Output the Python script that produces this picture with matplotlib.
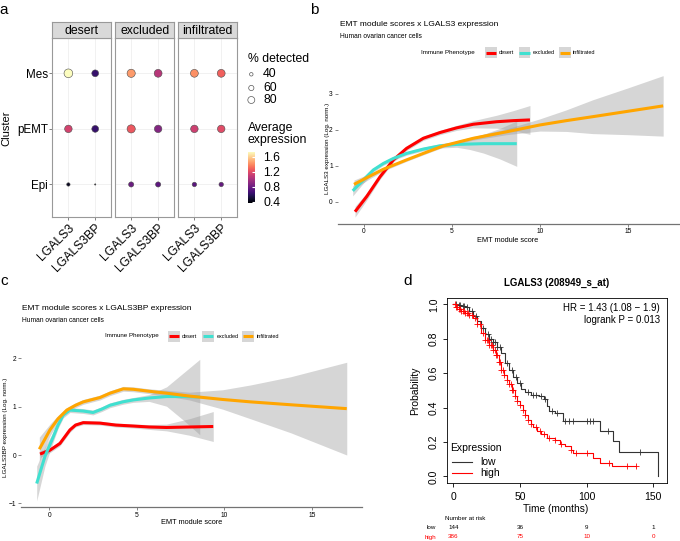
import numpy as np
import matplotlib
matplotlib.use('Agg')
import matplotlib.pyplot as plt
from matplotlib.patches import Rectangle
from matplotlib import colors, cm
from matplotlib.transforms import blended_transform_factory

plt.rcParams['font.family'] = ['Liberation Sans', 'DejaVu Sans']

# ---------------- panel a : dot plot ----------------
phenotypes = ['desert', 'excluded', 'infiltrated']
genes = ['LGALS3', 'LGALS3BP']
clusters = ['Epi', 'pEMT', 'Mes']
# rows = clusters (Epi, pEMT, Mes), cols = genes (LGALS3, LGALS3BP)
desert_avg = [[0.45, 0.40], [1.15, 0.62], [1.74, 0.62]]
excluded_avg = [[0.80, 0.75], [1.25, 0.88], [1.45, 1.05]]
infiltrated_avg = [[0.74, 0.78], [1.13, 1.20], [1.42, 1.28]]
desert_pct = [[39, 15], [86, 78], [100, 78]]
excluded_pct = [[59, 59], [94, 86], [94, 90]]
infiltrated_pct = [[51, 51], [86, 86], [90, 90]]
size_breaks = [40, 60, 80]
color_breaks = [0.4, 0.8, 1.2, 1.6]

# ---------------- panel b : LGALS3 smooth ----------------
b_desert_x = [-0.51, 0.15, 0.91, 1.67, 2.42, 3.37, 4.32, 5.27, 6.21, 7.54, 8.5, 9.43]
b_desert_y = [-0.27, 0.15, 0.70, 1.17, 1.49, 1.77, 1.93, 2.06, 2.16, 2.23, 2.26, 2.28]
b_desert_lo = [-0.42, 0.05, 0.63, 1.11, 1.43, 1.71, 1.87, 1.99, 2.06, 2.05, 1.98, 1.88]
b_desert_hi = [-0.12, 0.25, 0.77, 1.23, 1.55, 1.83, 1.99, 2.13, 2.26, 2.41, 2.54, 2.68]
b_excl_x = [-0.64, -0.04, 0.53, 1.10, 1.67, 2.42, 3.37, 4.32, 5.27, 6.0, 6.78, 7.7, 8.68]
b_excl_y = [0.31, 0.61, 0.89, 1.07, 1.21, 1.35, 1.47, 1.56, 1.60, 1.61, 1.62, 1.62, 1.62]
b_excl_lo = [0.17, 0.52, 0.83, 1.02, 1.16, 1.30, 1.42, 1.50, 1.52, 1.46, 1.36, 1.20, 0.99]
b_excl_hi = [0.45, 0.70, 0.95, 1.12, 1.26, 1.40, 1.52, 1.62, 1.68, 1.76, 1.88, 2.04, 2.25]
b_infl_x = [-0.57, 0.34, 1.10, 2.42, 3.37, 4.51, 6.21, 8.1, 10.0, 11.5, 13.0, 15.0, 17.0]
b_infl_y = [0.49, 0.72, 0.91, 1.17, 1.35, 1.56, 1.77, 1.95, 2.14, 2.26, 2.37, 2.52, 2.67]
b_infl_lo = [0.37, 0.65, 0.86, 1.13, 1.31, 1.52, 1.72, 1.87, 1.97, 1.96, 1.90, 1.87, 1.83]
b_infl_hi = [0.61, 0.79, 0.96, 1.21, 1.39, 1.60, 1.82, 2.03, 2.31, 2.56, 2.84, 3.17, 3.51]

# ---------------- panel c : LGALS3BP smooth ----------------
c_desert_x = [-0.53, 0.04, 0.61, 1.18, 1.5, 1.94, 2.9, 3.8, 4.8, 5.7, 6.7, 8.0, 9.37]
c_desert_y = [0.02, 0.10, 0.24, 0.52, 0.62, 0.67, 0.66, 0.62, 0.60, 0.58, 0.57, 0.58, 0.59]
c_desert_lo = [-0.05, 0.05, 0.19, 0.47, 0.58, 0.63, 0.62, 0.58, 0.56, 0.53, 0.50, 0.41, 0.28]
c_desert_hi = [0.09, 0.15, 0.29, 0.57, 0.66, 0.71, 0.70, 0.66, 0.64, 0.63, 0.64, 0.75, 0.90]
c_excl_x = [-0.72, -0.25, 0.23, 0.5, 0.8, 1.18, 1.94, 2.5, 3.0, 3.47, 4.2, 4.8, 5.7, 6.7, 7.7, 8.6]
c_excl_y = [-0.59, -0.03, 0.38, 0.62, 0.83, 0.93, 0.91, 0.88, 0.95, 1.03, 1.10, 1.14, 1.18, 1.21, 1.21, 1.20]
c_excl_lo = [-0.95, -0.23, 0.28, 0.55, 0.77, 0.88, 0.86, 0.83, 0.90, 0.98, 1.05, 1.09, 1.11, 1.01, 0.71, 0.42]
c_excl_hi = [-0.23, 0.17, 0.48, 0.69, 0.89, 0.98, 0.96, 0.93, 1.00, 1.08, 1.15, 1.19, 1.25, 1.41, 1.71, 1.98]
c_infl_x = [-0.57, 0.04, 0.5, 1.0, 1.5, 1.94, 2.9, 3.47, 4.23, 4.8, 5.7, 6.7, 8.0, 9.9, 11.5, 13.8, 17.0]
c_infl_y = [0.12, 0.52, 0.75, 0.93, 1.03, 1.10, 1.19, 1.28, 1.37, 1.36, 1.32, 1.28, 1.22, 1.15, 1.10, 1.04, 0.96]
c_infl_lo = [-0.13, 0.40, 0.68, 0.88, 0.98, 1.05, 1.14, 1.23, 1.32, 1.31, 1.27, 1.22, 1.14, 0.95, 0.75, 0.46, 0.00]
c_infl_hi = [0.37, 0.64, 0.82, 0.98, 1.08, 1.15, 1.24, 1.33, 1.42, 1.41, 1.37, 1.34, 1.30, 1.35, 1.45, 1.62, 1.92]

pheno_colors = ['#FF0000', '#40E0D0', '#FFA500']

# ---------------- panel d : Kaplan-Meier ----------------
low_t = [0, 3, 6, 9, 12, 15, 18, 21, 24, 27, 30, 33, 36, 39, 42, 45, 48, 51, 54, 58,
         64, 68, 70, 72, 76, 82.5, 110, 120, 124.5, 153.5]
low_s = [1.0, 0.995, 0.99, 0.985, 0.96, 0.935, 0.905, 0.865, 0.83, 0.80, 0.78, 0.75,
         0.715, 0.66, 0.62, 0.575, 0.54, 0.51, 0.49, 0.475, 0.465, 0.45, 0.41, 0.38,
         0.367, 0.32, 0.265, 0.203, 0.139, 0.0]
high_t = [0, 2, 4, 6, 9, 12, 15, 18, 21, 24, 27, 30, 32, 34, 36, 38, 40, 42, 44, 46,
          48, 50, 52, 54, 56, 58, 60, 63, 66, 70, 76, 80, 84, 88, 90, 104.6, 110, 119, 136.8]
high_s = [1.0, 0.985, 0.972, 0.962, 0.952, 0.94, 0.92, 0.885, 0.835, 0.79, 0.765, 0.735,
          0.705, 0.665, 0.62, 0.59, 0.56, 0.535, 0.50, 0.465, 0.44, 0.415, 0.385, 0.355,
          0.33, 0.305, 0.29, 0.265, 0.248, 0.222, 0.213, 0.19, 0.175, 0.155, 0.136, 0.107,
          0.078, 0.059, 0.059]
low_cens = [2, 4, 5, 7, 8, 10, 14, 17, 22, 26, 28, 30, 31, 33, 35, 40, 44, 47, 50, 56,
            60, 62, 66, 69, 74, 78, 84, 86.5, 90, 100, 102.5, 104.5, 116, 140]
high_cens = [1, 2, 3, 4, 5, 6, 7, 8, 9, 10, 11, 12, 14, 16, 18, 20, 22, 24, 25, 26, 27,
             28, 29, 30, 31, 32, 33, 34, 35, 36, 37, 38, 40, 42, 43, 44, 45, 46, 48, 50,
             52, 54, 56, 58, 62, 65, 68, 72, 76, 81, 88, 92, 100, 117, 130, 136.8]
risk_times = [0, 50, 100, 150]
risk_low = [144, 36, 9, 1]
risk_high = [386, 75, 10, 0]

W, H = 680, 541
fig = plt.figure(figsize=(W / 100, H / 100), dpi=100)


def box(l, t, r, b, **kw):
    return fig.add_axes([l / W, 1 - b / H, (r - l) / W, (b - t) / H], **kw)


ov = fig.add_axes([0, 0, 1, 1], zorder=10)
ov.set_xlim(0, W)
ov.set_ylim(H, 0)
ov.axis('off')

for lab, x, y in [('a', 4, 10), ('b', 314, 10), ('c', 4, 281), ('d', 408, 281)]:
    ov.text(x, y, lab, fontsize=11, ha='center', va='center')

# ---- panel a ----
cmap = plt.get_cmap('magma')
norm = colors.Normalize(vmin=0.36, vmax=1.74)
fs_a = 8.8


def dot_size(p):
    return (0.087 * np.asarray(p) * 0.72) ** 2


strips = [(52.3, 111.3), (115.0, 174.3), (178.3, 237.3)]
avgs = [desert_avg, excluded_avg, infiltrated_avg]
pcts = [desert_pct, excluded_pct, infiltrated_pct]
for i, ph in enumerate(phenotypes):
    l, r = strips[i]
    ax = box(l, 38.3, r, 216.7)
    xs = np.tile([1, 2], 3)
    ys = np.repeat([1, 2, 3], 2)
    ax.scatter(xs, ys, s=dot_size(np.ravel(pcts[i])), c=np.ravel(avgs[i]), cmap=cmap,
               norm=norm, edgecolors='0.3', linewidths=0.4, zorder=3)
    ax.set_xlim(0.4, 2.6)
    ax.set_ylim(0.42, 3.63)
    ax.set_xticks([1, 2])
    ax.set_xticklabels(genes, rotation=45, ha='right', rotation_mode='anchor', fontsize=fs_a)
    ax.set_yticks([1, 2, 3])
    if i == 0:
        ax.set_yticklabels(clusters, fontsize=8.4)
        ax.tick_params(axis='y', length=2, color='0.3', width=0.5, pad=1)
    else:
        ax.set_yticklabels([])
        ax.tick_params(axis='y', length=0)
    ax.tick_params(axis='x', length=2, color='0.3', width=0.5, pad=1.5)
    ax.grid(color='#EBEBEB', lw=0.5)
    ax.set_axisbelow(True)
    for sp in ax.spines.values():
        sp.set_color('0.6')
        sp.set_linewidth(0.8)
    st = box(l, 22.3, r, 38.3, facecolor='#D9D9D9')
    st.set_xticks([])
    st.set_yticks([])
    for sp in st.spines.values():
        sp.set_color('0.6')
        sp.set_linewidth(0.8)
    st.text(0.5, 0.45, ph, transform=st.transAxes, ha='center', va='center', fontsize=fs_a)

ov.text(6, 128, 'Cluster', rotation=90, fontsize=8, ha='center', va='center')
ov.text(247.7, 59, '% detected', fontsize=fs_a, va='center')
leg_y = [74.3, 88, 100]
ov.scatter([251.3] * 3, leg_y, s=dot_size(size_breaks), facecolors='white',
           edgecolors='0.35', linewidths=0.5)
for y, v in zip(leg_y, size_breaks):
    ov.text(263, y, str(v), fontsize=fs_a, va='center')
ov.text(247.7, 128.3, 'Average', fontsize=fs_a, va='center')
ov.text(247.7, 140.5, 'expression', fontsize=fs_a, va='center')
cax = box(247.7, 151.7, 255, 203.3)
cb = fig.colorbar(cm.ScalarMappable(norm=norm, cmap=cmap), cax=cax)
cb.set_ticks(color_breaks)
cb.ax.tick_params(labelsize=fs_a, length=2, color='white', direction='in', pad=6)
cb.outline.set_visible(False)


# ---- panels b, c ----
def smooth_panel(ax, groups):
    for (x, y, lo, hi), col in zip(groups, pheno_colors):
        ax.fill_between(x, lo, hi, color='#999999', alpha=0.4, lw=0)
        ax.plot(x, y, color=col, lw=2.2, solid_capstyle='butt')
    for s in ['top', 'right', 'left']:
        ax.spines[s].set_visible(False)
    ax.spines['bottom'].set_color('0.45')
    ax.spines['bottom'].set_linewidth(0.9)
    ax.set_xticks([0, 5, 10, 15])
    ax.tick_params(labelsize=4.8, length=2, color='0.45', width=0.6, pad=1.5)
    ax.patch.set_alpha(0)


def pheno_legend(x0, keys, y):
    ov.text(x0, y, 'Immune Phenotype', fontsize=4.5, va='center')
    for kx, lab, col in zip(keys, phenotypes, pheno_colors):
        ov.add_patch(Rectangle((kx, y - 5.5), 11.5, 11, facecolor='#D6D6D6', lw=0))
        ov.plot([kx + 0.5, kx + 11], [y, y], color=col, lw=2.2, solid_capstyle='butt')
        ov.text(kx + 14, y, lab, fontsize=4, va='center')


axb = box(337.6, 68.8, 679, 223.6)
smooth_panel(axb, [(b_desert_x, b_desert_y, b_desert_lo, b_desert_hi),
                   (b_excl_x, b_excl_y, b_excl_lo, b_excl_hi),
                   (b_infl_x, b_infl_y, b_infl_lo, b_infl_hi)])
axb.set_xlim(-1.5, 17.9)
axb.set_ylim(-0.6, 3.7)
axb.set_yticks([0, 1, 2, 3])
ov.text(340, 25, 'EMT module scores x LGALS3 expression', fontsize=6.0, va='center')
ov.text(340, 36, 'Human ovarian cancer cells', fontsize=4.8, va='center')
pheno_legend(421, [485, 518.7, 559], 52.5)
ov.text(327, 148, 'LGALS3 expression (Log. norm.)', rotation=90, fontsize=4.5,
        ha='center', va='center')
ov.text(508, 240, 'EMT module score', fontsize=5.3, ha='center', va='center')

axc = box(21.3, 352.1, 362.5, 507.2)
smooth_panel(axc, [(c_desert_x, c_desert_y, c_desert_lo, c_desert_hi),
                   (c_excl_x, c_excl_y, c_excl_lo, c_excl_hi),
                   (c_infl_x, c_infl_y, c_infl_lo, c_infl_hi)])
axc.set_xlim(-1.6, 17.9)
axc.set_ylim(-1.08, 2.13)
axc.set_yticks([-1, 0, 1, 2])
ov.text(22, 309, 'EMT module scores x LGALS3BP expression', fontsize=6.0, va='center')
ov.text(22, 320, 'Human ovarian cancer cells', fontsize=4.8, va='center')
pheno_legend(105, [168, 202.3, 242.3], 336)
ov.text(6, 427, 'LGALS3BP expression (Log. norm.)', rotation=90, fontsize=4.5,
        ha='center', va='center')
ov.text(192, 523, 'EMT module score', fontsize=5.3, ha='center', va='center')

# ---- panel d ----
axd = box(447.3, 298.3, 666.7, 483.3)


def step_at(t, s, c):
    idx = np.searchsorted(t, c, side='right') - 1
    return np.asarray(s)[idx]


for t, s, cens, col in [(low_t, low_s, low_cens, '0.2'), (high_t, high_s, high_cens, '#FF0000')]:
    axd.plot(t, s, drawstyle='steps-post', color=col, lw=0.8)
    axd.plot(cens, step_at(t, s, cens), ls='none', marker='+', ms=4, mew=0.6, color=col)
axd.set_xlim(-4.6, 160)
axd.set_ylim(-0.04, 1.035)
axd.set_xticks([0, 50, 100, 150])
axd.set_yticks([0, 0.2, 0.4, 0.6, 0.8, 1.0])
axd.set_yticklabels(['0.0', '0.2', '0.4', '0.6', '0.8', '1.0'], rotation=90, va='center')
axd.tick_params(labelsize=7.5, length=3, width=0.6, pad=3)
for sp in axd.spines.values():
    sp.set_linewidth(0.6)
ov.text(556.7, 283, 'LGALS3 (208949_s_at)', fontweight='bold', fontsize=7,
        ha='center', va='center')
ov.text(660, 308.3, 'HR = 1.43 (1.08 \u2212 1.9)', ha='right', va='center', fontsize=7)
ov.text(660, 320.3, 'logrank P = 0.013', ha='right', va='center', fontsize=7)
ov.text(450, 448.3, 'Expression', fontsize=7.5, va='center')
ov.plot([452, 472], [461.7, 461.7], color='0.2', lw=0.8)
ov.plot([452, 472], [472.7, 472.7], color='#FF0000', lw=0.8)
ov.text(480, 461.7, 'low', fontsize=7.5, va='center')
ov.text(480, 472.7, 'high', fontsize=7.5, va='center')
ov.text(415, 391, 'Probability', rotation=90, fontsize=7.5, ha='center', va='center')
ov.text(556, 509, 'Time (months)', fontsize=7.3, ha='center', va='center')

tr = blended_transform_factory(axd.transData, ov.transData)
ov.text(445, 519, 'Number at risk', fontsize=4.5, va='center')
ov.text(436, 527.7, 'low', fontsize=4.5, va='center', ha='right')
ov.text(436, 537, 'high', fontsize=4.5, va='center', ha='right', color='#FF0000')
for t, nl, nh in zip(risk_times, risk_low, risk_high):
    ov.text(t, 527.7, str(nl), transform=tr, fontsize=4.5, ha='center', va='center')
    ov.text(t, 537, str(nh), transform=tr, fontsize=4.5, ha='center', va='center',
            color='#FF0000')

fig.savefig('out.png', dpi=100)
